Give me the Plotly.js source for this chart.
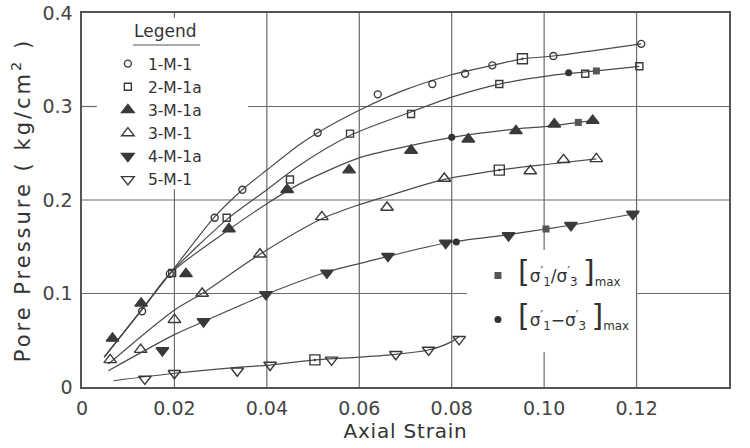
<!DOCTYPE html>
<html>
<head>
<meta charset="utf-8">
<script src="https://cdn.plot.ly/plotly-3.0.1.min.js"></script>
<style>html,body{margin:0;padding:0;background:#fff;}#chart{width:750px;height:448px;}</style>
</head>
<body>
<div id="chart"></div>
<script>
// ---- data ----
const xTickVals = [0, 0.02, 0.04, 0.06, 0.08, 0.10, 0.12, 0.14];
const xTickText = ['0', '0.02', '0.04', '0.06', '0.08', '0.10', '0.12', '0.14'];
const yTickVals = [0, 0.1, 0.2, 0.3, 0.4];
const yTickText = ['0', '0.1', '0.2', '0.3', '0.4'];

const seriesNames = ['1-M-1', '2-M-1a', '3-M-1a', '3-M-1', '4-M-1a', '5-M-1'];

// measured points
const s1x = [0.013, 0.019, 0.0287, 0.0347, 0.051, 0.064, 0.0758, 0.0829, 0.0888, 0.102, 0.121];
const s1y = [0.081, 0.121, 0.181, 0.211, 0.272, 0.313, 0.324, 0.335, 0.344, 0.354, 0.367];
const s2x = [0.0195, 0.0313, 0.045, 0.058, 0.0712, 0.0903, 0.1089, 0.1206];
const s2y = [0.122, 0.181, 0.222, 0.271, 0.292, 0.324, 0.335, 0.343];
const s3x = [0.0066, 0.0128, 0.0225, 0.0318, 0.0444, 0.0578, 0.0712, 0.0836, 0.0939, 0.1022, 0.1105];
const s3y = [0.052, 0.0895, 0.121, 0.169, 0.211, 0.232, 0.253, 0.265, 0.274, 0.281, 0.285];
const s4x = [0.0061, 0.0127, 0.020, 0.026, 0.0385, 0.0519, 0.066, 0.0784, 0.097, 0.1042, 0.1113];
const s4y = [0.029, 0.040, 0.072, 0.100, 0.142, 0.182, 0.192, 0.223, 0.231, 0.243, 0.244];
const s5x = [0.0174, 0.0263, 0.0398, 0.053, 0.0662, 0.0787, 0.0923, 0.1058, 0.1192];
const s5y = [0.039, 0.070, 0.099, 0.122, 0.140, 0.154, 0.162, 0.173, 0.185];
const s6x = [0.0136, 0.020, 0.0336, 0.0407, 0.054, 0.0679, 0.075, 0.0816];
const s6y = [0.0086, 0.0147, 0.0174, 0.0235, 0.029, 0.035, 0.0396, 0.051];

// [s1'/s3']max points, [s1'-s3']max points, and points where the max-ratio square falls on an open marker
const ratioMaxX = [0.1113, 0.1074, 0.1004];
const ratioMaxY = [0.338, 0.283, 0.169];
const devMaxX = [0.1053, 0.080, 0.081];
const devMaxY = [0.336, 0.267, 0.155];
const boxedX = [0.0953, 0.0903, 0.0504];
const boxedY = [0.351, 0.232, 0.029];

// hand-drawn fitted curves
const f1x = [0.0048, 0.013, 0.019, 0.0287, 0.0347, 0.04, 0.047, 0.051, 0.06, 0.07, 0.08, 0.0888, 0.0953, 0.102, 0.121];
const f1y = [0.032, 0.083, 0.121, 0.182, 0.211, 0.232, 0.259, 0.272, 0.296, 0.318, 0.334, 0.344, 0.351, 0.354, 0.367];
const f2x = [0.0048, 0.013, 0.019, 0.0313, 0.04, 0.047, 0.058, 0.07, 0.08, 0.0903, 0.1013, 0.1113, 0.1206];
const f2y = [0.032, 0.083, 0.121, 0.179, 0.211, 0.237, 0.269, 0.292, 0.310, 0.324, 0.333, 0.338, 0.343];
const f3x = [0.0048, 0.013, 0.019, 0.03, 0.04, 0.047, 0.06, 0.07, 0.08, 0.0939, 0.1013, 0.1074, 0.1105];
const f3y = [0.032, 0.083, 0.121, 0.162, 0.196, 0.217, 0.245, 0.257, 0.267, 0.276, 0.279, 0.283, 0.285];
const f4x = [0.0057, 0.0198, 0.026, 0.0385, 0.0519, 0.06, 0.066, 0.0784, 0.0903, 0.1013, 0.1113];
const f4y = [0.0246, 0.0816, 0.100, 0.142, 0.180, 0.195, 0.204, 0.222, 0.232, 0.2385, 0.244];
const f5x = [0.0057, 0.02, 0.0263, 0.0398, 0.053, 0.06, 0.0787, 0.0923, 0.1004, 0.1058, 0.1192];
const f5y = [0.0174, 0.056, 0.070, 0.099, 0.123, 0.132, 0.154, 0.163, 0.169, 0.173, 0.185];
const f6x = [0.0068, 0.02, 0.0336, 0.0407, 0.0504, 0.06, 0.0679, 0.075, 0.08, 0.0816];
const f6y = [0.0067, 0.0147, 0.021, 0.0235, 0.029, 0.032, 0.035, 0.0396, 0.0485, 0.054];

// ---- drawing ----
const FONT = 'DejaVu Sans, sans-serif';
const INK = '#3a3a3a';
const TXT = '#444';
const GRID = '#6a6a6a';

const fits = [[f1x, f1y], [f2x, f2y], [f3x, f3y], [f4x, f4y], [f5x, f5y], [f6x, f6y]];
const traces = [];
fits.forEach(function (f) {
  traces.push({
    x: f[0], y: f[1], type: 'scatter', mode: 'lines',
    line: {color: '#4a4a4a', width: 1.2, shape: 'spline', smoothing: 0.8},
    showlegend: false, hoverinfo: 'skip'
  });
});

const pts = [[s1x, s1y], [s2x, s2y], [s3x, s3y], [s4x, s4y], [s5x, s5y], [s6x, s6y]];
const symbols = ['circle-open', 'square-open', 'triangle-up', 'triangle-up-open', 'triangle-down', 'triangle-down-open'];
const sizes = [7, 7, 11, 11, 11, 11];
pts.forEach(function (p, i) {
  traces.push({
    x: p[0], y: p[1], type: 'scatter', mode: 'markers', name: seriesNames[i],
    legend: 'legend',
    marker: {symbol: symbols[i], size: sizes[i], color: INK, line: {color: INK, width: 1.4}}
  });
});

traces.push({
  x: boxedX, y: boxedY, type: 'scatter', mode: 'markers', showlegend: false,
  marker: {symbol: 'square-open-dot', size: 10, color: INK, line: {color: INK, width: 1.4}}
});
const BR = '<span style="font-size:30px">';
traces.push({
  x: ratioMaxX, y: ratioMaxY, type: 'scatter', mode: 'markers', legend: 'legend2', legendgroup: 'a',
  name: BR + '[</span>σ<sup>′</sup><sub>1</sub>/σ<sup>′</sup><sub>3</sub> ' + BR + ']</span><sub>max</sub>',
  marker: {symbol: 'square', size: 7, color: '#555'}
});
traces.push({
  x: devMaxX, y: devMaxY, type: 'scatter', mode: 'markers', legend: 'legend2', legendgroup: 'b',
  name: BR + '[</span>σ<sup>′</sup><sub>1</sub>−σ<sup>′</sup><sub>3</sub> ' + BR + ']</span><sub>max</sub>',
  marker: {symbol: 'circle', size: 7, color: '#333'}
});

// grid lines at the tick values, interrupted where the two legend panels sit (gaps in paper units)
const vGridGaps = [{at: 0.02, from: 0.529, to: 0.987}, {at: 0.10, from: 0.0936, to: 0.366}];
const hGridGaps = [{at: 0.3, from: 0.023, to: 0.2566}, {at: 0.1, from: 0.595, to: 0.858}];
const shapes = [];
function gridSegs(val, gaps) {
  const g = gaps.find(function (d) { return Math.abs(d.at - val) < 1e-9; });
  return g ? [[0, g.from], [g.to, 1]] : [[0, 1]];
}
xTickVals.slice(1, -1).forEach(function (v) {
  gridSegs(v, vGridGaps).forEach(function (s) {
    shapes.push({type: 'line', xref: 'x', yref: 'paper', x0: v, x1: v, y0: s[0], y1: s[1],
                 line: {color: GRID, width: 1.2}, layer: 'below'});
  });
});
yTickVals.slice(1, -1).forEach(function (v) {
  gridSegs(v, hGridGaps).forEach(function (s) {
    shapes.push({type: 'line', xref: 'paper', yref: 'y', x0: s[0], x1: s[1], y0: v, y1: v,
                 line: {color: GRID, width: 1.2}, layer: 'below'});
  });
});
// underline of the legend heading
shapes.push({type: 'line', xref: 'paper', yref: 'paper', x0: 0.0788, x1: 0.1824, y0: 0.9144, y1: 0.9144,
             line: {color: '#555', width: 1.2}, layer: 'above'});

const layout = {
  width: 750, height: 448,
  margin: {l: 82, r: 21, t: 13, b: 61},
  paper_bgcolor: '#fff', plot_bgcolor: '#fff',
  font: {family: FONT, color: TXT},
  xaxis: {
    range: [0, 0.14], tickvals: xTickVals, ticktext: xTickText,
    showgrid: false, zeroline: false,
    showline: true, mirror: true, linecolor: '#555', linewidth: 1.6,
    ticks: '', ticklabelstandoff: 4,
    tickfont: {family: FONT, size: 19, color: TXT},
    title: {text: '<span style="letter-spacing:0.8px">Axial Strain</span>', font: {family: FONT, size: 20, color: '#333'}, standoff: 5}
  },
  yaxis: {
    range: [0, 0.4], tickvals: yTickVals, ticktext: yTickText,
    showgrid: false, zeroline: false,
    showline: true, mirror: true, linecolor: '#555', linewidth: 1.6,
    ticks: '', ticklabelstandoff: 4,
    tickfont: {family: FONT, size: 19, color: TXT},
    title: {text: '<span style="letter-spacing:3px">Pore Pressure ( kg/cm<sup>2</sup> )</span>', font: {family: FONT, size: 21, color: '#333'}, standoff: 6}
  },
  legend: {
    x: 0.040, y: 0.909, xanchor: 'left', yanchor: 'top',
    bgcolor: 'rgba(0,0,0,0)', borderwidth: 0,
    font: {family: FONT, size: 15.5, color: '#333'},
    itemclick: false
  },
  legend2: {
    x: 0.612, y: 0.345, xanchor: 'left', yanchor: 'top',
    bgcolor: 'rgba(0,0,0,0)', borderwidth: 0,
    font: {family: FONT, size: 17, color: '#333'},
    traceorder: 'grouped', tracegroupgap: 19
  },
  annotations: [
    {text: 'Legend', xref: 'paper', yref: 'paper', x: 0.128, y: 0.952, xanchor: 'center', yanchor: 'middle',
     showarrow: false, font: {family: FONT, size: 17, color: '#333'}}
  ],
  shapes: shapes,
  showlegend: true
};

Plotly.newPlot('chart', traces, layout, {displayModeBar: false, staticPlot: true});
</script>
</body>
</html>
